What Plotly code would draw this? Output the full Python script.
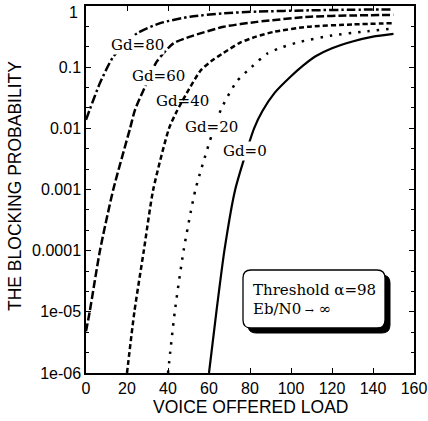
import plotly.graph_objects as go

# ---- data ----
gd0_x = [60, 63.6, 67.5, 72.8, 82, 86, 92, 100, 106, 112, 120, 130, 140, 150]
gd0_y = [1e-6, 1e-5, 1e-4, 1e-3, 1e-2, 0.019, 0.038, 0.071, 0.107, 0.151, 0.204, 0.263, 0.316, 0.35]

gd20_x = [40, 43.3, 47.6, 53.4, 62.4, 66.3, 73.6, 80.7, 88.3, 96, 104.5, 120, 135, 150]
gd20_y = [1e-6, 1e-5, 1e-4, 1e-3, 1e-2, 0.022, 0.059, 0.1, 0.166, 0.214, 0.26, 0.33, 0.38, 0.43]

gd40_x = [20, 23.6, 28.2, 32.8, 40.5, 44.3, 49.2, 56, 62, 67, 75, 83, 92, 108, 130, 150]
gd40_y = [1e-6, 1e-5, 1e-4, 1e-3, 1e-2, 0.019, 0.038, 0.089, 0.132, 0.17, 0.25, 0.316, 0.38, 0.457, 0.50, 0.525]

gd60_x = [0, 1.8, 6.8, 13.3, 21.5, 23.9, 28.8, 34.5, 42.6, 50.8, 67.1, 83.4, 109.4, 130, 150]
gd60_y = [4.8e-6, 1e-5, 1e-4, 1e-3, 1e-2, 0.02, 0.048, 0.123, 0.245, 0.316, 0.457, 0.55, 0.668, 0.70, 0.716]

gd80_x = [0, 2, 6.8, 13.3, 24.8, 36.2, 50.8, 67.1, 83.4, 109.4, 130, 150]
gd80_y = [0.0138, 0.021, 0.055, 0.148, 0.355, 0.525, 0.668, 0.76, 0.81, 0.85, 0.87, 0.88]

series_names = ["Gd=0", "Gd=20", "Gd=40", "Gd=60", "Gd=80"]

x_ticks = [0, 20, 40, 60, 80, 100, 120, 140, 160]
y_tickvals = [1e-6, 1e-5, 1e-4, 1e-3, 1e-2, 1e-1, 1]
y_ticktext = ["1e-06", "1e-05", "0.0001", "0.001", "0.01", "0.1", ""]

box_line1 = "Threshold α=98"
box_line2 = "Eb/N0<span style='font-size:11px'> →</span> ∞"

# ---- layout geometry (pixels) ----
W, H = 428, 421
L, R, T, B = 86, 14, 6, 48
PW, PH = W - L - R, H - T - B


def px(xp):
    return (xp - L) / PW


def py(yp):
    return (H - B - yp) / PH


fig = go.Figure()

styles = [
    dict(dash="solid", width=2.2),
    dict(dash="2.5px,7px", width=2.5),
    dict(dash="5px,3px", width=2.5),
    dict(dash="8px,3px", width=2.5),
    dict(dash="9px,3px,2.5px,3px", width=2.5),
]
data = [(gd0_x, gd0_y), (gd20_x, gd20_y), (gd40_x, gd40_y), (gd60_x, gd60_y), (gd80_x, gd80_y)]
for (xs, ys), st, nm in zip(data, styles, series_names):
    fig.add_trace(go.Scatter(
        x=xs, y=ys, mode="lines", name=nm,
        line=dict(color="black", dash=st["dash"], width=st["width"], shape="spline", smoothing=0.6),
        showlegend=False, hoverinfo="skip",
    ))

minor_vals = []
for k in range(-6, 0):
    for j in (1, 2):
        minor_vals.append(10 ** (k + j / 3))

fig.update_layout(
    width=W, height=H,
    margin=dict(l=L, r=R, t=T, b=B, autoexpand=False),
    paper_bgcolor="white", plot_bgcolor="white",
    font=dict(family="Liberation Sans, Arial, sans-serif", color="black", size=16),
    xaxis=dict(
        range=[0, 160], tickmode="array", tickvals=x_ticks, automargin=False,
        ticks="inside", ticklen=5, tickwidth=1.2, tickcolor="black",
        showline=True, linecolor="black", linewidth=1.5, mirror="ticks",
        showgrid=False, zeroline=False,
        tickfont=dict(size=16),
    ),
    yaxis=dict(
        type="log", range=[-6, 0], tickmode="array", automargin=False,
        tickvals=y_tickvals, ticktext=y_ticktext,
        ticks="inside", ticklen=5, tickwidth=1.2, tickcolor="black",
        showline=True, linecolor="black", linewidth=1.5, mirror="ticks",
        showgrid=False, zeroline=False,
        tickfont=dict(size=16),
        minor=dict(tickmode="array", tickvals=minor_vals, ticks="inside", ticklen=3,
                   tickcolor="black", tickwidth=1, showgrid=False),
    ),
)

serif = "DejaVu Serif, Liberation Serif, serif"
ann = []
# curve labels (pixel centres)
label_pos = [(245, 151, True), (211, 127, True), (182, 101, False), (158, 76, True), (137, 45, True)]
for nm, (xp, yp, bg) in zip(series_names, label_pos):
    ann.append(dict(x=px(xp), y=py(yp), xref="paper", yref="paper", text=nm, showarrow=False,
                    font=dict(family=serif, size=15, color="black"),
                    bgcolor="white" if bg else "rgba(0,0,0,0)", borderpad=0,
                    xanchor="center", yanchor="middle"))

# "1" tick label placed like the reference
ann.append(dict(x=px(80), y=py(13), xref="paper", yref="paper", text="1", showarrow=False,
                font=dict(size=16), xanchor="right", yanchor="middle"))

# axis titles
ann.append(dict(x=px(250), y=py(407), xref="paper", yref="paper", text="VOICE OFFERED LOAD",
                showarrow=False, font=dict(size=17.5), xanchor="center", yanchor="middle"))
ann.append(dict(x=px(15), y=py(186), xref="paper", yref="paper", text="THE BLOCKING PROBABILITY",
                showarrow=False, font=dict(size=17.5), textangle=-90, xanchor="center", yanchor="middle"))

# box text
ann.append(dict(x=px(251), y=py(290), xref="paper", yref="paper", text=box_line1, showarrow=False,
                font=dict(family=serif, size=15, color="black"), xanchor="left", yanchor="middle"))
ann.append(dict(x=px(251), y=py(309), xref="paper", yref="paper", text=box_line2, showarrow=False,
                font=dict(family=serif, size=15, color="black"), xanchor="left", yanchor="middle"))

fig.update_layout(annotations=ann)


def rounded_path(x0p, y0p, x1p, y1p, r):
    # pixel box -> paper path with rounded corners
    X0, X1 = px(x0p), px(x1p)
    Yt, Yb = py(y0p), py(y1p)
    rx, ry = r / PW, r / PH
    return (f"M {X0+rx},{Yt} L {X1-rx},{Yt} Q {X1},{Yt} {X1},{Yt-ry} "
            f"L {X1},{Yb+ry} Q {X1},{Yb} {X1-rx},{Yb} "
            f"L {X0+rx},{Yb} Q {X0},{Yb} {X0},{Yb+ry} "
            f"L {X0},{Yt-ry} Q {X0},{Yt} {X0+rx},{Yt} Z")


shapes = [
    dict(type="path", xref="paper", yref="paper", path=rounded_path(248, 275, 390, 333, 8),
         fillcolor="black", line=dict(color="black", width=1)),
    dict(type="path", xref="paper", yref="paper", path=rounded_path(243, 270, 385, 328, 8),
         fillcolor="white", line=dict(color="black", width=1.3)),
]
fig.update_layout(shapes=shapes)

fig.write_html("out.html", config={"displayModeBar": False},
               post_script="document.body.style.margin='0px';document.body.style.overflow='hidden';")
